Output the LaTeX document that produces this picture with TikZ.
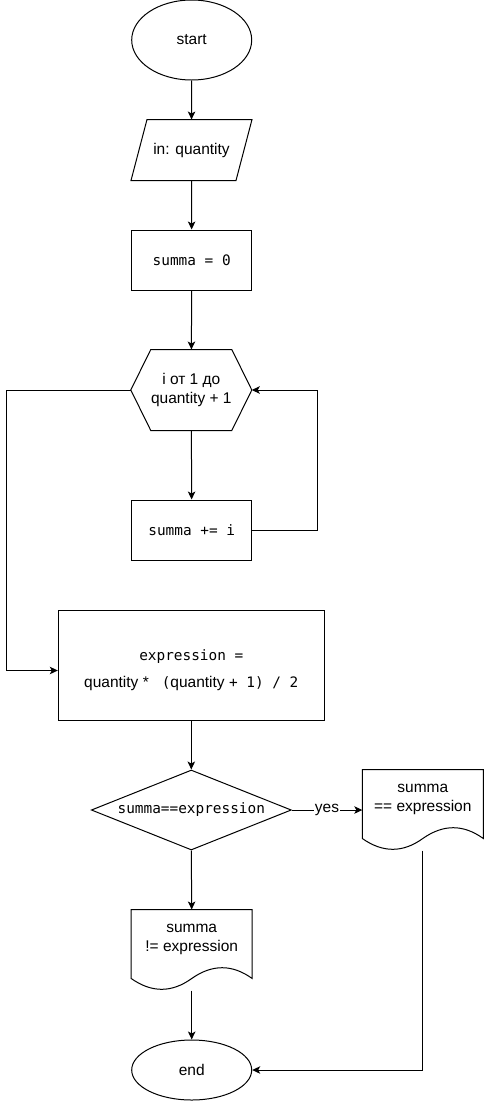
\documentclass[tikz,border=0pt]{standalone}
\usepackage{fontspec}
\setmainfont{Liberation Sans}
\newfontfamily\monofont{DejaVu Sans Mono}
\usetikzlibrary{shapes.geometric, arrows.meta}
\newcommand{\code}[1]{{\fontsize{14.4}{18}\selectfont\monofont #1}}

\begin{document}
\begin{tikzpicture}[x=1pt, y=-1pt]
  %tikz%
  % Flowchart: summa of 1..quantity
  %tikz%
    \tikzset{
      bloc/.style={draw, line width=1pt, minimum width=120pt, minimum height=60pt,
        inner sep=0pt, align=center, font=\fontsize{15.5}{18.6}\selectfont},
      cadre/.style={bloc, draw=none},
      terminal/.style={bloc, ellipse},
      texte/.style={align=center, font=\fontsize{15.5}{18.6}\selectfont},
      fleche/.style={line width=1pt, -{Stealth[length=8pt, width=7.5pt, inset=2pt]}},
      trait/.style={line width=1pt, line join=miter}
    }
    \useasboundingbox (0,0) rectangle (485,1101);

    % debut
    \node[terminal, minimum height=80pt] (start) at (191.7,40) {start};
    \node[cadre] (entree) at (191.5,150) {in: quantity};
    \draw[trait] ([xshift=16pt]entree.north west) -- (entree.north east)
      -- ([xshift=-16pt]entree.south east) -- (entree.south west) -- cycle;
    \node[bloc] (init) at (191.7,260) {\code{summa = 0}};

    % boucle
    \node[cadre, minimum height=80pt] (boucle) at (191.3,390) {i от 1 до\\quantity + 1};
    \draw[trait] ([xshift=20pt]boucle.north west) -- ([xshift=-20pt]boucle.north east)
      -- (boucle.east) -- ([xshift=-20pt]boucle.south east)
      -- ([xshift=20pt]boucle.south west) -- (boucle.west) -- cycle;
    \node[bloc] (ajout) at (191.7,530) {\code{summa += i}};

    \node[bloc, minimum width=266pt, minimum height=110pt, label={[texte, yshift=-5pt]
      center:\code{expression =}\\[8pt]quantity~*~\code{ (}quantity\ \code{+ 1) / 2}}]
      (calcul) at (191.3,665) {};

    % test
    \node[bloc, diamond, shape aspect=2.5, minimum width=200pt, minimum height=80pt]
      (test) at (191.3,810) {\code{summa==expression}};

    % documents
    \foreach \nom/\px/\py/\txt in {oui/422.8/810/{summa\\== expression},
                                   non/191.7/950/{summa\\!= expression}}{
      \node[cadre, minimum height=80pt, label={[texte, yshift=10.5pt]center:\txt}]
        (\nom) at (\px,\py) {};
      \draw[trait] (\nom.north west) -- (\nom.north east) -- ([yshift=12pt]\nom.south east)
        .. controls ([shift={(-20pt,26.4pt)}]\nom.south east)
        and ([shift={(-40pt,26.4pt)}]\nom.south east) .. ([yshift=12pt]\nom.south)
        .. controls ([shift={(-20pt,-2.4pt)}]\nom.south)
        and ([shift={(-40pt,-2.4pt)}]\nom.south) .. ([yshift=12pt]\nom.south west) -- cycle;
    }

    \node[terminal] (fin) at (191.7,1070) {end};

    % liaisons
    \draw[fleche] (start) -- (entree);
    \draw[fleche] (entree) -- (init);
    \draw[fleche] (init) -- (boucle);
    \draw[fleche] (boucle) -- (ajout);
    \draw[fleche] (ajout.east) -- ++(65.5,0) |- (boucle.east);
    \draw[fleche] (boucle.west) -- ++(-124,0) |- ([yshift=-5.5pt]calcul.west);
    \draw[fleche] (calcul) -- (test);
    \draw[fleche] (test.east) -- node[texte, fill=white, inner sep=1pt] {yes} (oui.west);
    \draw[fleche] (test.south) -- (non.north);
    \draw[fleche] (non.south) -- (fin.north);
    \draw[fleche] (oui.south) |- (fin.east);

  \end{tikzpicture}
\end{document}
